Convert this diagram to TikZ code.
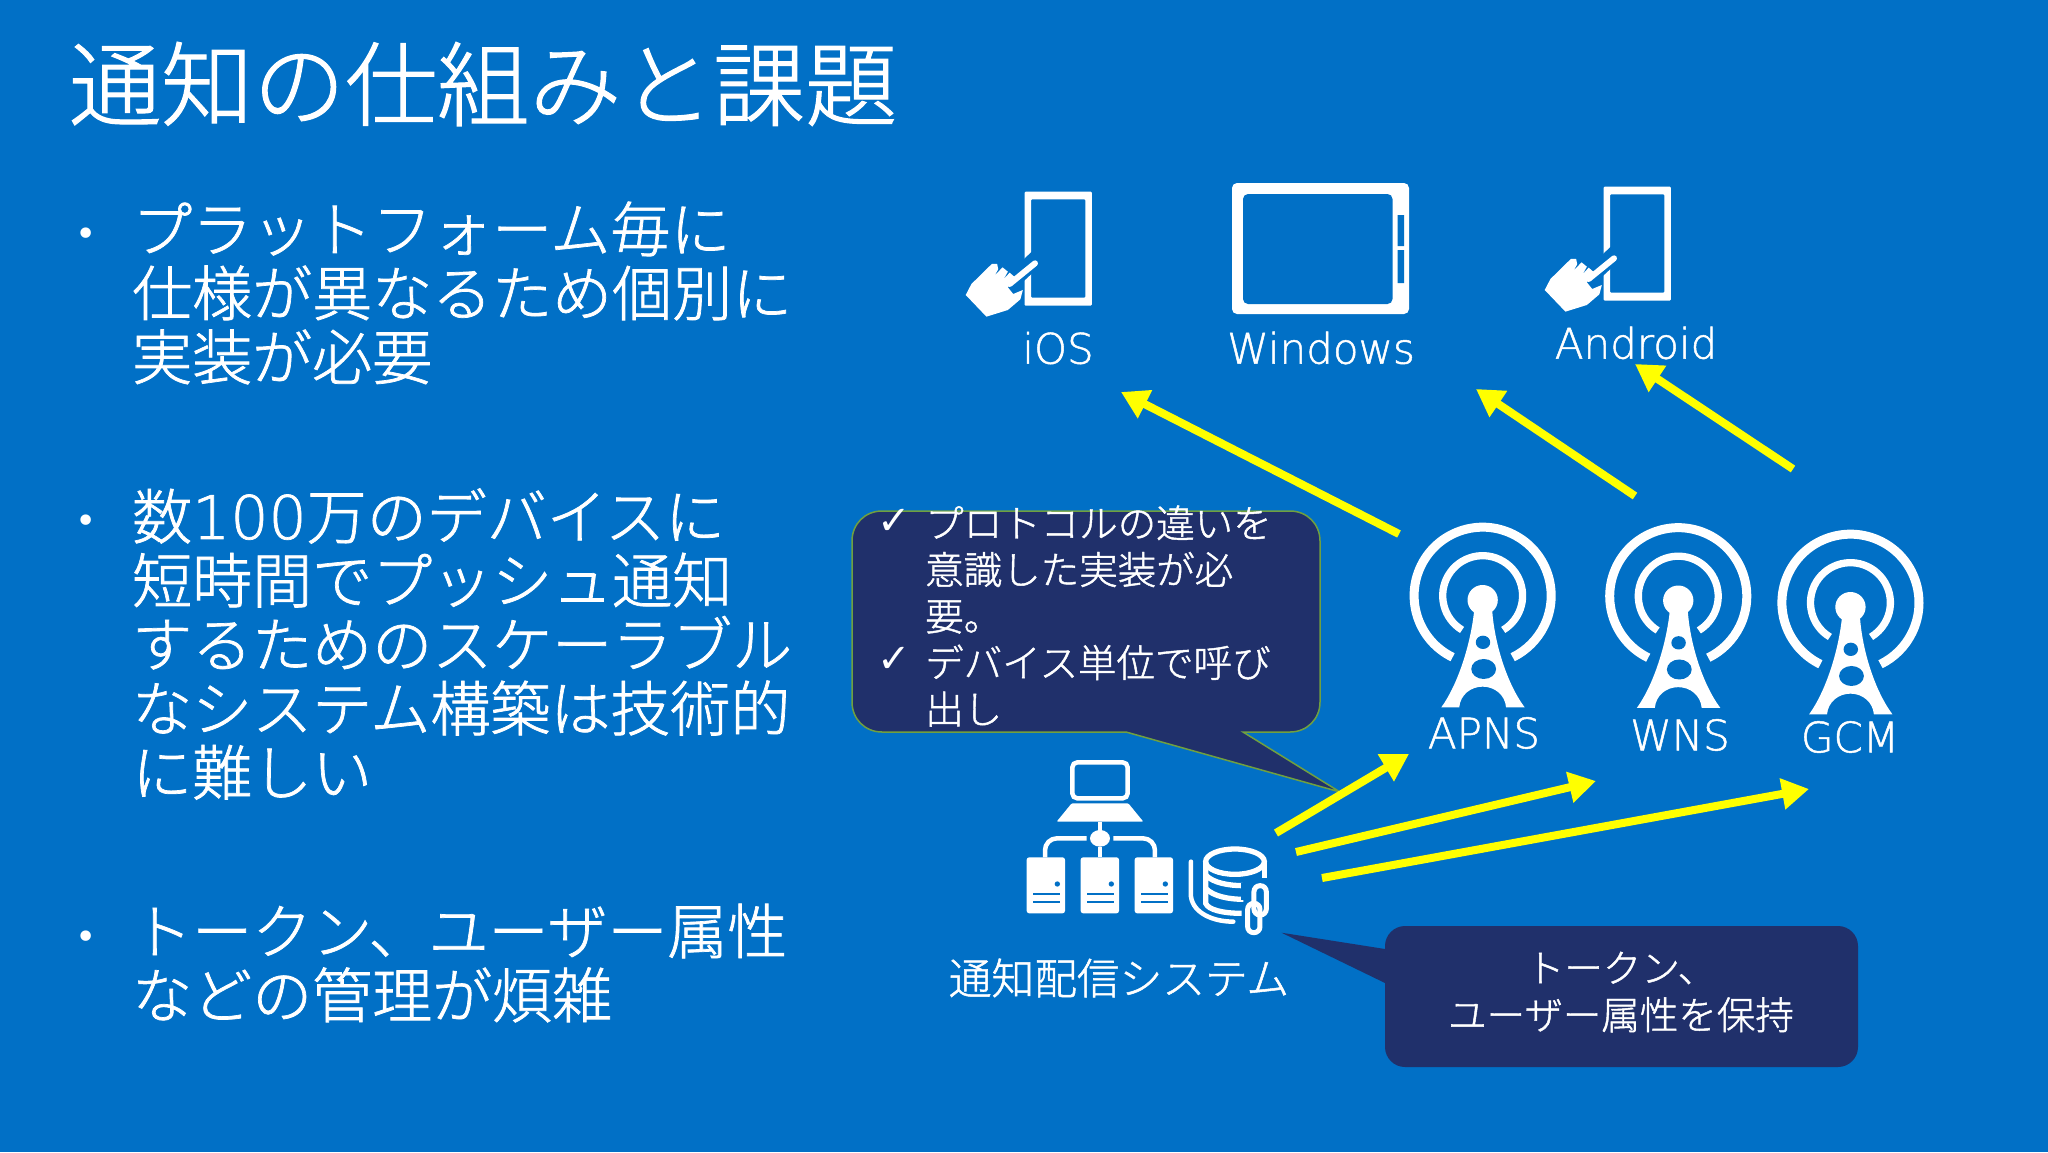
\documentclass[tikz,border=0pt]{standalone}
\usepackage{fontspec}
\usetikzlibrary{arrows.meta}
\setmainfont{Noto Sans CJK JP Light}[RawFeature={embolden=1.2}]
\newfontfamily\lat{DejaVu Sans ExtraLight}[RawFeature={embolden=1.2}]
\newfontfamily\sym{DejaVu Sans}
\definecolor{bg}{HTML}{0170C6}
\definecolor{navy}{HTML}{20306B}
\definecolor{edge}{HTML}{70A040}
\definecolor{arrowy}{HTML}{FFFF00}
\newcommand{\fs}[2]{\fontsize{#1pt}{#2pt}\selectfont}
\newcommand{\handphone}[2]{%
\begin{scope}[shift={(#1,#2)},x=0.35714pt,y=-0.3333pt]
 \fill[white,even odd rule,rounded corners=1pt] (237,95) rectangle (425,437) (255,118) rectangle (407,413);
 \draw[bg,line width=16pt] (180,385) -- (275,290);
 \fill[white] (72,405) -- (88,372) -- (145,312) -- (160,312) -- (163,328) -- (152,348) -- (175,322) -- (190,335) -- (178,358) -- (195,338) -- (208,350) -- (190,382) -- (205,402) -- (232,390) -- (225,418) -- (190,450) -- (130,470) -- cycle;
 \draw[white,line width=6pt,line cap=round] (195,372) -- (266,310);
\end{scope}}
\newcommand{\tower}[2]{%
\begin{scope}[shift={(#1,#2)},x=0.34435pt,y=-0.3333pt]
 \draw[white,line width=9pt] (240,257) ++(116:199 and 205.5) arc[start angle=116,end angle=424,x radius=199,y radius=205.5];
 \draw[white,line width=7.3pt] (240,257) ++(121:116 and 120) arc[start angle=121,end angle=419,x radius=116,y radius=120];
 \fill[white] (240,270) ellipse[x radius=44,y radius=45];
 \fill[white] (215,305) .. controls (205,400) and (170,520) .. (120,592) -- (172,592) .. controls (175,555) and (205,530) .. (240,530) .. controls (275,530) and (305,555) .. (308,592) -- (362,592) .. controls (310,520) and (275,400) .. (268,305) -- cycle;
 \fill[bg] (241,397) ellipse[x radius=21,y radius=20];
 \fill[bg] (243,477) ellipse[x radius=36,y radius=30];
\end{scope}}
\newcommand{\serverbox}[1]{%
 \begin{scope}[shift={(#1,740)},x=0.3333pt,y=-0.3333pt]
 \fill[white,rounded corners=2.5pt] (80,352) rectangle (195,520);
 \fill[bg] (172,432) circle[radius=8];
 \draw[bg,line width=1.8pt] (100,462) -- (180,462) (100,487) -- (180,487);
 \end{scope}}
\tikzset{
 txt/.style={text=white,inner sep=0pt,align=left,anchor=west},
 lbl/.style={text=white,inner sep=0pt,font=\lat\fs{42}{42}},
 dot/.style={text=white,inner sep=0pt,font=\sym\fs{36}{36}},
 tick/.style={text=white,inner sep=0pt,font=\sym\fs{40}{40}},
 push/.style={arrowy,line width=8pt,-{Triangle[length=27pt,width=30pt]}},
 bubble/.style={fill=navy,draw=edge,line width=1.5pt},
 bubble2/.style={fill=navy,draw=none},
}
\begin{document}
\begin{tikzpicture}[x=1pt,y=-1pt]
\useasboundingbox (0,0) rectangle (2048,1152);
\fill[bg] (0,0) rectangle (2048,1152);
% title
\node[txt,font=\fs{92}{92}] (title) at (69,84) {通知の仕組みと課題};
% bullets
\node[dot] (b1) at (86,237) {•};
\node[dot] (b2) at (86,524) {•};
\node[dot] (b3) at (86,940) {•};
\node[txt,font=\fs{60}{64}] (t1) at (132,293) {プラットフォーム毎に\\仕様が異なるため個別に\\実装が必要};
\node[txt,font=\fs{60}{64}] (t2) at (132,644) {数{\lat 100}万のデバイスに\\短時間でプッシュ通知\\するためのスケーラブル\\なシステム構築は技術的\\に難しい};
\node[txt,font=\fs{60}{64}] (t3) at (132,963) {トークン、ユーザー属性\\などの管理が煩雑};
% devices
\handphone{940}{160}
\handphone{1519}{155}
\fill[white,rounded corners=5pt] (1232,183) rectangle (1409,314);
\fill[bg,rounded corners=5pt] (1243,194) rectangle (1392.5,304);
\fill[bg] (1397.5,215) rectangle (1404,246) (1397.5,250) rectangle (1404,283);
\node[lbl] (ios) at (1058,348) {iOS};
\node[lbl] (win) at (1321,348) {Windows};
\node[lbl] (and) at (1636,343) {Android};
% towers
\tower{1400}{510}
\tower{1595.6}{510.5}
\tower{1767.8}{517}
\node[lbl] (apns) at (1484,733) {APNS};
\node[lbl] (wns) at (1680,735) {WNS};
\node[lbl] (gcm) at (1850,737) {GCM};
% callout 1
\draw[bubble] (1126,732) -- (882,732) .. controls (865,732) and (852,719) .. (852,702) -- (852,541) .. controls (852,524) and (865,511) .. (882,511) -- (1290,511) .. controls (1307,511) and (1320,524) .. (1320,541) -- (1320,702) .. controls (1320,719) and (1307,732) .. (1290,732) -- (1243,732) -- (1340,792) -- cycle;
\node[tick] (c1) at (894,522) {✓};
\node[tick] (c2) at (894,660) {✓};
\node[txt,font=\fs{38.5}{46.5}] (ct) at (925,616) {プロトコルの違いを\\意識した実装が必\\要。\\デバイス単位で呼び\\出し};
% callout 2
\fill[bubble2] (1281.5,932.7) -- (1385,949) -- (1385,946) .. controls (1385,935) and (1394,926) .. (1405,926) -- (1838,926) .. controls (1849,926) and (1858,935) .. (1858,946) -- (1858,1047) .. controls (1858,1058) and (1849,1067) .. (1838,1067) -- (1405,1067) .. controls (1394,1067) and (1385,1058) .. (1385,1047) -- (1385,983) -- cycle;
\node[text=white,inner sep=0pt,align=center,font=\fs{38.5}{47}] (dt) at (1621,992) {トークン、\\ユーザー属性を保持};
% server icon
\begin{scope}[shift={(1000,740)},x=0.3333pt,y=-0.3333pt]
 \draw[white,line width=4.5pt,rounded corners=5pt] (217,67) rectangle (383,175);
 \fill[white,rounded corners=1pt] (215,190) -- (385,190) -- (430,245) -- (170,245) -- cycle;
 \draw[white,line width=4.5pt] (300,245) -- (300,290) (300,320) -- (300,352);
 \fill[white] (300,295) ellipse[x radius=30,y radius=25];
 \draw[white,line width=4.5pt,rounded corners=12pt] (260,295) -- (135,295) -- (135,352);
 \draw[white,line width=4.5pt,rounded corners=12pt] (340,295) -- (465,295) -- (465,352);
\end{scope}
\serverbox{1000}
\serverbox{1054}
\serverbox{1108}
\begin{scope}[shift={(1000,740)},x=0.3333pt,y=-0.3333pt]
 \draw[white,line width=5.3pt] (705,365) ellipse[x radius=88,y radius=38];
 \draw[white,line width=5.3pt] (617,365) -- (617,490) .. controls (625,510) and (670,520) .. (725,520);
 \draw[white,line width=5.3pt] (617,405) .. controls (640,430) and (690,437) .. (730,437);
 \draw[white,line width=5.3pt] (617,445) .. controls (640,470) and (690,478) .. (730,478);
 \draw[white,line width=5.3pt] (793,365) -- (793,415);
 \draw[white,line width=4.5pt,line cap=round] (573,365) -- (573,470) .. controls (580,520) and (640,545) .. (700,545);
 \draw[bg,line width=8pt] (735,430) -- (735,480);
 \draw[white,line width=5pt,rounded corners=6pt] (743,490) rectangle (780,578);
 \draw[white,line width=5pt,rounded corners=6pt] (762,437) rectangle (799,525);
\end{scope}
\node[text=white,inner sep=0pt,font=\fs{42.7}{42.7}] (sys) at (1119,978) {通知配信システム};
% arrows
\coordinate (a1s) at (1399,534); \coordinate (a1e) at (1121,392);
\coordinate (a2s) at (1635,496); \coordinate (a2e) at (1476,389);
\coordinate (a3s) at (1793,469); \coordinate (a3e) at (1635,364);
\coordinate (a4s) at (1276,833); \coordinate (a4e) at (1409,754);
\coordinate (a5s) at (1296,852); \coordinate (a5e) at (1596,781);
\coordinate (a6s) at (1322,878); \coordinate (a6e) at (1809,789);
\draw[push] (a1s) -- (a1e);
\draw[push] (a2s) -- (a2e);
\draw[push] (a3s) -- (a3e);
\draw[push] (a4s) -- (a4e);
\draw[push] (a5s) -- (a5e);
\draw[push] (a6s) -- (a6e);
\end{tikzpicture}
\end{document}
